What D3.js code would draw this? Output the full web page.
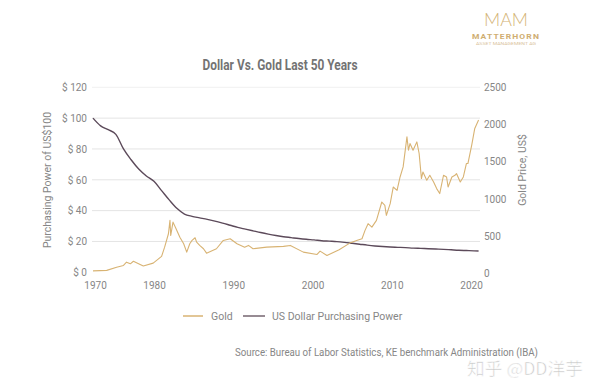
<!DOCTYPE html>
<html><head><meta charset="utf-8">
<script src="https://cdn.jsdelivr.net/npm/d3@7/dist/d3.min.js"></script>
<style>
body{margin:0;background:#fff;}
svg{display:block;font-family:Roboto,"Noto Sans",sans-serif;}
</style></head>
<body><svg id="c" width="600" height="391"></svg>
<script>
// ---- data ----
const dollarYears  = [1970,1971,1972,1973,1974,1975,1976,1977,1978,1979,1980,1981,1982,1983,1984,1985,1986,1987,1988,1989,1990,1991,1992,1993,1994,1995,1996,1997,1998,1999,2000,2001,2002,2003,2004,2005,2006,2007,2008,2009,2010,2011,2012,2013,2014,2015,2016,2017,2018,2019,2020,2020.6];
const dollarValues = [100,95,92.5,89.5,80,73,67,62.5,59,53,47,41.5,37.8,36.3,35.3,34.3,33.2,31.9,30.5,29.1,28,26.9,25.8,24.8,23.9,23.1,22.5,21.9,21.4,21,20.5,20.2,19.9,19.4,18.8,18.2,17.6,17.1,16.7,16.4,16.2,16,15.7,15.5,15.3,15.1,14.9,14.6,14.3,14.1,13.9,13.8];

const goldYears  = [1970,1970.9,1971.8,1973.1,1974,1974.4,1974.9,1975.3,1976.6,1977.9,1979,1979.4,1979.9,1980.1,1980.2,1980.5,1980.9,1981.4,1981.9,1982.3,1982.7,1983,1983.4,1983.6,1984,1984.5,1984.9,1986.2,1987.1,1988,1988.9,1989.9,1990.4,1991,1992.8,1995,1995.9,1997.6,1999.4,1999.8,2000.7,2002.3,2003.7,2004.6,2005.3,2005.7,2006.1,2006.6,2007.2,2007.9,2008.3,2008.5,2009,2009.4,2009.9,2010.3,2010.7,2011.2,2011.4,2011.6,2012,2012.5,2012.8,2013.1,2013.3,2013.8,2014.2,2014.7,2015.1,2015.5,2016,2016.4,2016.6,2017.1,2017.5,2017.7,2018.2,2018.6,2019,2019.2,2019.7,2020.1,2020.6];
const goldValues = [35,38,42,85,108,152,130,165,100,139,229,354,534,713,511,690,601,488,400,287,400,444,480,421,377,332,273,332,444,467,400,354,377,332,354,364,377,287,256,300,242,319,408,444,467,579,669,623,713,960,915,781,938,1161,1117,1296,1431,1834,1655,1745,1655,1767,1611,1275,1363,1252,1319,1229,1140,1073,1319,1296,1161,1296,1319,1342,1229,1296,1476,1476,1723,1948,2060];

const leftTicks  = [0,20,40,60,80,100,120];
const rightTicks = [0,500,1000,1500,2000,2500];
const xTicks     = [1970,1980,1990,2000,2010,2020];

const title = "Dollar Vs. Gold Last 50 Years";
const leftTitle = "Purchasing Power of US$100";
const rightTitle = "Gold Price, US$";
const legendLabels = ["Gold","US Dollar Purchasing Power"];
const sourceText = "Source: Bureau of Labor Statistics, KE benchmark Administration (IBA)";

const goldColor = "#d8b373";
const dollarColor = "#5c4a5a";
const textColor = "#868686";

// ---- scales ----
const svg = d3.select("#c");
const x = d3.scaleLinear().domain([1970, 2020]).range([93, 474]);
const xLab = d3.scaleLinear().domain([1970, 1980, 2020]).range([95, 154, 471]);
const yL = d3.scaleLinear().domain([0, 120]).range([272.3, 87.3]);
const yR = d3.scaleLinear().domain([0, 2500]).range([273.5, 87.3]);

// gridlines
svg.append("g").selectAll("line").data(leftTicks.filter(d => d > 0)).join("line")
  .attr("x1", 92).attr("x2", 480)
  .attr("y1", d => yL(d)).attr("y2", d => yL(d))
  .attr("stroke", d => d === 120 ? "#f1f1f1" : "#e4e4e4").attr("stroke-width", 1);

// axes
const axL = svg.append("g").attr("transform", "translate(92,0)")
  .call(d3.axisLeft(yL).tickValues(leftTicks).tickSize(0).tickPadding(5).tickFormat(d => "$ " + d));
const axR = svg.append("g").attr("transform", "translate(480,0)")
  .call(d3.axisRight(yR).tickValues(rightTicks).tickSize(0).tickPadding(4).tickFormat(d3.format("d")));
const axX = svg.append("g").attr("transform", "translate(0,282)")
  .call(d3.axisBottom(xLab).tickValues(xTicks).tickSize(0).tickPadding(0).tickFormat(d3.format("d")));
[axL, axR, axX].forEach(a => {
  a.select(".domain").remove();
  a.selectAll("text").attr("fill", textColor).style("font-size", "10px").style("font-family", "Roboto");
});

// lines
const dollarData = dollarYears.map((d, i) => [d, dollarValues[i]]);
const goldData = goldYears.map((d, i) => [d, goldValues[i]]);
svg.append("path").datum(dollarData)
  .attr("fill", "none").attr("stroke", dollarColor).attr("stroke-width", 1.4)
  .attr("d", d3.line().x(d => x(d[0])).y(d => yL(d[1])).curve(d3.curveMonotoneX));
svg.append("path").datum(goldData)
  .attr("fill", "none").attr("stroke", goldColor).attr("stroke-width", 1.1)
  .attr("stroke-linejoin", "round")
  .attr("d", d3.line().x(d => x(d[0])).y(d => yR(d[1])));

// titles
svg.append("text").attr("x", 280).attr("y", 70).attr("text-anchor", "middle")
  .attr("fill", "#737373").style("font-size", "14px").style("font-weight", "bold")
  .attr("textLength", 155).attr("lengthAdjust", "spacingAndGlyphs").text(title);
svg.append("text").attr("transform", "translate(51,180) rotate(-90)").attr("text-anchor", "middle")
  .attr("fill", textColor).style("font-size", "10.5px").text(leftTitle);
svg.append("text").attr("transform", "translate(526,170) rotate(-90)").attr("text-anchor", "middle")
  .attr("fill", textColor).style("font-size", "10.5px").text(rightTitle);

// legend
const lg = svg.append("g");
lg.append("line").attr("x1", 183).attr("x2", 203).attr("y1", 316).attr("y2", 316).attr("stroke", goldColor).attr("stroke-width", 1.5);
lg.append("text").attr("x", 211).attr("y", 319.5).attr("fill", textColor).style("font-size", "10.5px").text(legendLabels[0]);
lg.append("line").attr("x1", 243).attr("x2", 265).attr("y1", 316).attr("y2", 316).attr("stroke", "#75656f").attr("stroke-width", 1.5);
lg.append("text").attr("x", 272).attr("y", 319.5).attr("fill", textColor).style("font-size", "10.5px").text(legendLabels[1]);

// source
svg.append("text").attr("x", 235).attr("y", 356).attr("fill", textColor).style("font-size", "10px")
  .attr("textLength", 303).attr("lengthAdjust", "spacingAndGlyphs").text(sourceText);

// watermark
svg.append("text").attr("x", 467).attr("y", 375).attr("fill", "#c8c8c8")
  .attr("stroke", "#ffffff").attr("stroke-width", 0.6)
  .style("font-size", "17px").style("font-family", "'Noto Sans CJK SC','Noto Sans',sans-serif")
  .attr("textLength", 116).attr("lengthAdjust", "spacingAndGlyphs").text("知乎 @DD洋芋");

// logo
const logo = svg.append("g");
logo.append("text").attr("x", 506).attr("y", 26).attr("text-anchor", "middle")
  .attr("fill", "#d4b476").style("font-size", "17px").style("font-family", "Lato")
  .style("font-weight", "300").attr("textLength", 44).attr("lengthAdjust", "spacingAndGlyphs").text("MAM");
logo.append("text").attr("x", 506).attr("y", 38.5).attr("text-anchor", "middle")
  .attr("fill", "#cfae72").style("font-size", "7.5px").style("font-weight", "bold").style("letter-spacing", "1px")
  .attr("textLength", 68).attr("lengthAdjust", "spacingAndGlyphs").text("MATTERHORN");
logo.append("text").attr("x", 506).attr("y", 45).attr("text-anchor", "middle")
  .attr("fill", "#d9c29a").style("font-size", "4px")
  .attr("textLength", 60).attr("lengthAdjust", "spacingAndGlyphs").text("ASSET MANAGEMENT AG");
</script>
</body></html>
